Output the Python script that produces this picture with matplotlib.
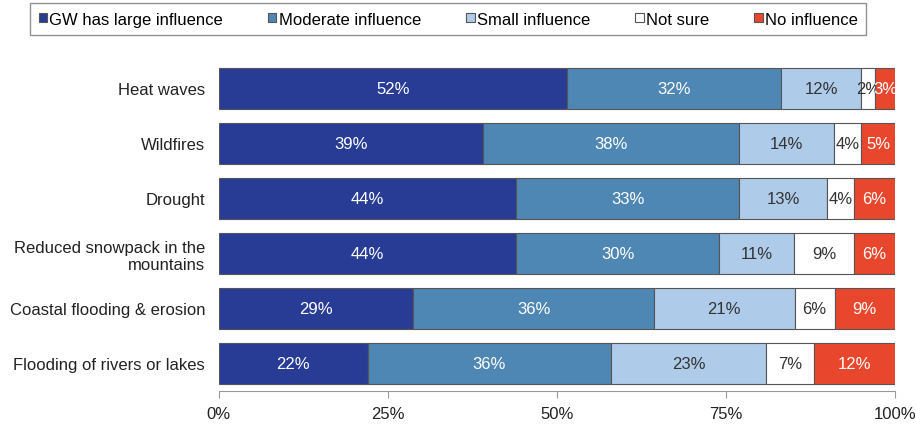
import matplotlib
matplotlib.use('Agg')
import numpy as np
import matplotlib.pyplot as plt
from matplotlib.patches import Patch

plt.rcParams['font.family'] = ['Liberation Sans', 'DejaVu Sans']

categories = ['Heat waves', 'Wildfires', 'Drought',
              'Reduced snowpack in the\nmountains', 'Coastal flooding & erosion',
              'Flooding of rivers or lakes']
series = ['GW has large influence', 'Moderate influence', 'Small influence',
          'Not sure', 'No influence']
large = [52, 39, 44, 44, 29, 22]
moderate = [32, 38, 33, 30, 36, 36]
small = [12, 14, 13, 11, 21, 23]
not_sure = [2, 4, 4, 9, 6, 7]
no_infl = [3, 5, 6, 6, 9, 12]

colors = ['#283c96', '#4e86b4', '#aecbe9', '#ffffff', '#e9472d']
text_colors = ['white', 'white', '#333333', '#333333', 'white']

data = np.array([large, moderate, small, not_sure, no_infl], dtype=float)
share = data / data.sum(axis=0) * 100

fig = plt.figure(figsize=(9.16, 4.27), dpi=100)
ax = fig.add_axes([0.239, 0.082, 0.738, 0.773])

y = np.arange(len(categories))
left = np.zeros(len(categories))
for i in range(len(series)):
    ax.barh(y, share[i], left=left, height=0.76, color=colors[i],
            edgecolor='#555555', linewidth=0.8, zorder=1)
    for j in range(len(categories)):
        # same zorder as bars: next segment hides overflowing text, like the original
        ax.text(left[j] + share[i][j] / 2, y[j], '%d%%' % data[i][j],
                ha='center', va='center', fontsize=12, color=text_colors[i], zorder=1)
    left += share[i]

ax.set_ylim(len(categories) - 0.5, -0.5)
ax.set_xlim(0, 100)
ax.set_yticks(y)
ax.set_yticklabels(categories, fontsize=12, color='#222222')
ax.set_xticks([0, 25, 50, 75, 100])
ax.set_xticklabels(['0%', '25%', '50%', '75%', '100%'], fontsize=12, color='#222222')
ax.tick_params(axis='y', length=0, pad=10)
ax.tick_params(axis='x', length=5, color='#999999', pad=6)
for s in ['top', 'right', 'left']:
    ax.spines[s].set_visible(False)
ax.spines['bottom'].set_color('#999999')

handles = [Patch(facecolor=c, edgecolor='#555555', linewidth=0.8) for c in colors]
leg = fig.legend(handles, series, loc='upper left', bbox_to_anchor=(0.033, 0.99),
                 ncol=5, fontsize=12, frameon=True, fancybox=False,
                 handlelength=0.5, handleheight=0.5, handletextpad=0.15,
                 columnspacing=2.7, borderpad=0.5, borderaxespad=0)
leg.get_frame().set_edgecolor('#777777')
leg.get_frame().set_linewidth(1.0)

plt.savefig('out.png', dpi=100)
